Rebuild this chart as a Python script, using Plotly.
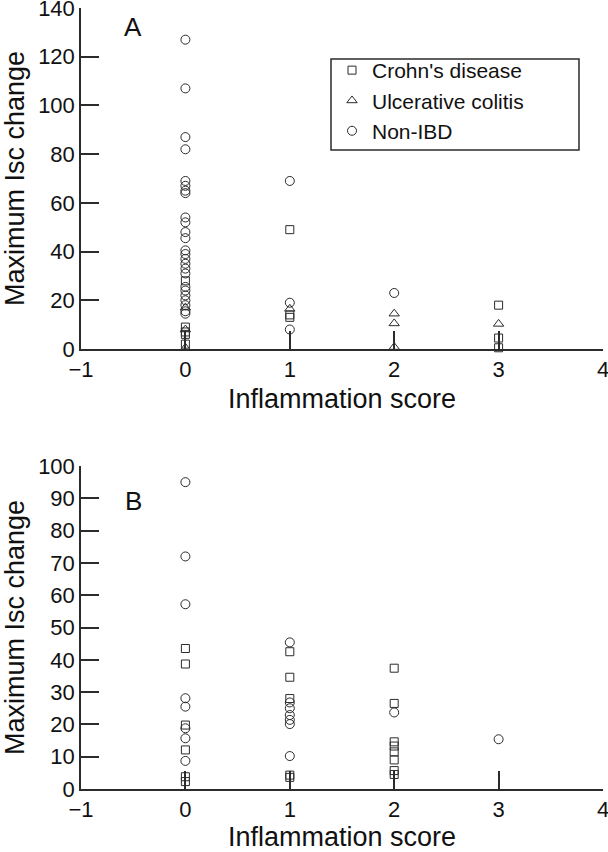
import plotly.graph_objects as go
from plotly.subplots import make_subplots

# Panel A data (x = inflammation score, y = maximum Isc change)
a_cd_x = [0, 0, 0, 0, 0, 1, 1, 1, 3, 3, 3]
a_cd_y = [28, 9, 7, 6, 2, 49, 14, 13, 18, 4.5, 0.5]
a_uc_x = [0, 0, 0, 1, 2, 2, 2, 3]
a_uc_y = [17, 8, 0.5, 16.5, 14.5, 10.5, 0.8, 10.3]
a_non_x = [0] * 25 + [1, 1, 1, 2]
a_non_y = [127, 107, 87, 82, 69, 67, 65, 64, 54, 52, 48, 45.5, 40.5, 39, 37, 35,
           33, 31, 25.5, 24, 22, 20, 18, 15.5, 14.5, 69, 19, 8, 23]

# Panel B data
b_cd_x = [0] * 6 + [1] * 5 + [2] * 8
b_cd_y = [43.5, 38.7, 19.8, 12.1, 3.8, 2.3,
          42.5, 34.6, 28, 4.3, 3.6,
          37.4, 26.5, 14.6, 13.3, 11.5, 9, 5.7, 4.5]
b_non_x = [0] * 8 + [1] * 7 + [2, 3]
b_non_y = [95, 72, 57.2, 28.1, 25.5, 18.8, 15.7, 8.7,
           45.4, 26.8, 25, 22.9, 21.4, 20.1, 10.2, 23.7, 15.4]

x_ticks = [-1, 0, 1, 2, 3, 4]
a_y_ticks = [0, 20, 40, 60, 80, 100, 120, 140]
b_y_ticks = [0, 10, 20, 30, 40, 50, 60, 70, 80, 90, 100]

FONT = "Liberation Sans, Arial, Helvetica, sans-serif"
INK = "#2b2b2b"

fig = make_subplots(rows=2, cols=1)

def mk(x, y, sym, size, name, row, show):
    fig.add_trace(go.Scatter(
        x=x, y=y, mode="markers", name=name, showlegend=show, cliponaxis=False,
        marker=dict(symbol=sym, size=size, color=INK,
                    line=dict(color=INK, width=1))), row=row, col=1)

mk(a_cd_x, a_cd_y, "square-open", 8, "Crohn's disease", 1, True)
mk(a_uc_x, a_uc_y, "triangle-up-open", 9, "Ulcerative colitis", 1, True)
mk(a_non_x, a_non_y, "circle-open", 9, "Non-IBD", 1, True)
mk(b_cd_x, b_cd_y, "square-open", 8, "Crohn's disease", 2, False)
mk(b_non_x, b_non_y, "circle-open", 9, "Non-IBD", 2, False)

H, W = 852, 608
ml, mr, mt, mb = 81, 5, 8, 63
ph = H - mt - mb
pw = W - ml - mr

def py(pix):
    return (H - mb - pix) / ph

def px(pix):
    return (pix - ml) / pw

axis_common = dict(showline=True, linecolor=INK, linewidth=1.5, ticks="inside",
                   ticklen=18, tickwidth=1.5, tickcolor=INK, showgrid=False,
                   zeroline=False, automargin=False, ticklabeloverflow="allow",
                   tickfont=dict(family=FONT, size=22, color="#111"),
                   title_font=dict(family=FONT, size=27, color="#111"))

fig.update_xaxes(range=[-1, 4], tickvals=x_ticks, title_text="Inflammation score",
                 title_standoff=8, **axis_common)
fig.update_yaxes(title_text="Maximum Isc change", title_standoff=8, **axis_common)
fig.update_yaxes(range=[0, 140], tickvals=a_y_ticks, domain=[py(349), 1.0], row=1, col=1)
fig.update_yaxes(range=[0, 100], tickvals=b_y_ticks, domain=[0, py(466)], row=2, col=1)

# legend frame
fig.add_shape(type="rect", xref="paper", yref="paper",
              x0=px(331), x1=px(579), y0=py(150), y1=py(59),
              line=dict(color=INK, width=1.5))

fig.add_annotation(text="A", xref="paper", yref="paper", x=px(133), y=py(27),
                   xanchor="center", yanchor="middle",
                   showarrow=False, font=dict(family=FONT, size=26, color="#111"))
fig.add_annotation(text="B", xref="paper", yref="paper", x=px(133), y=py(501),
                   xanchor="center", yanchor="middle",
                   showarrow=False, font=dict(family=FONT, size=26, color="#111"))

fig.update_layout(
    width=W, height=H, margin=dict(l=ml, r=mr, t=mt, b=mb),
    paper_bgcolor="white", plot_bgcolor="white",
    legend=dict(x=px(332), y=py(50), xanchor="left", yanchor="top",
                bgcolor="rgba(0,0,0,0)", borderwidth=0,
                font=dict(family=FONT, size=21, color="#111"), tracegroupgap=0),
)

fig.write_html("out.html", config={"displayModeBar": False},
               post_script="document.body.style.margin='0';")
